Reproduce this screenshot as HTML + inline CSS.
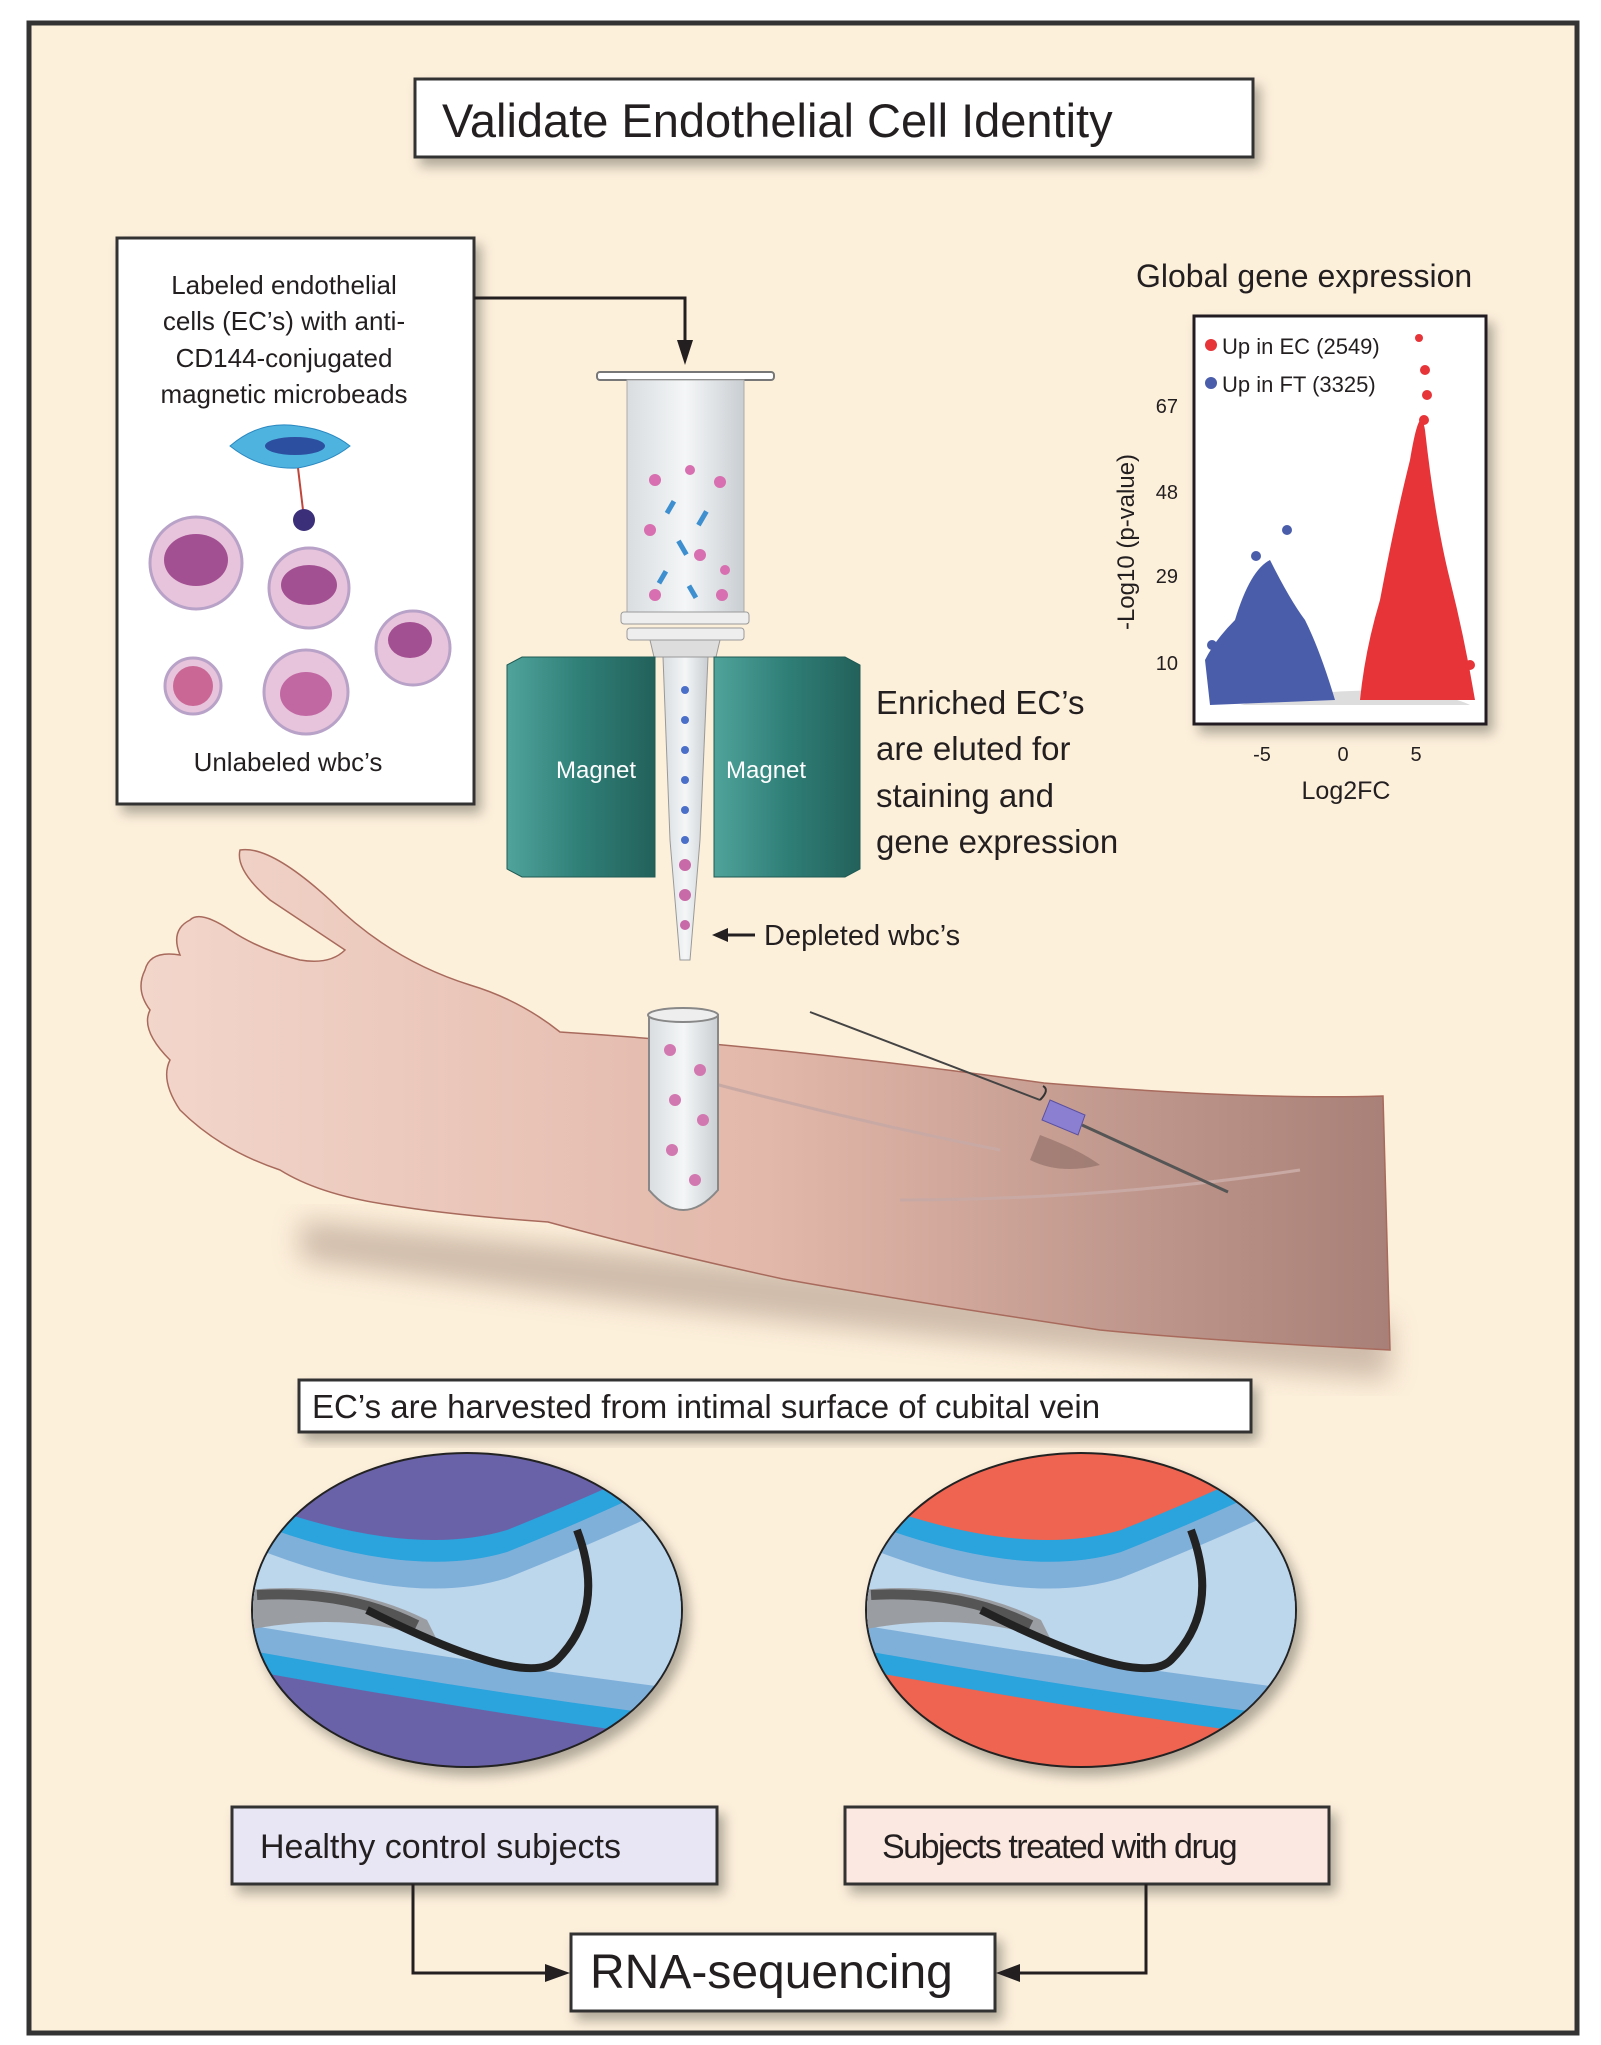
<!DOCTYPE html>
<html><head><meta charset="utf-8"><style>
html,body{margin:0;padding:0;background:#fff}
svg{display:block}
text{font-family:"Liberation Sans",sans-serif;fill:#231f20}
</style></head><body>
<svg width="1601" height="2045" viewBox="0 0 1601 2045" xmlns="http://www.w3.org/2000/svg">
<defs>
<filter id="sh" x="-10%" y="-10%" width="130%" height="140%"><feDropShadow dx="6" dy="8" stdDeviation="6" flood-color="#000" flood-opacity="0.3"/></filter>
<filter id="blur"><feGaussianBlur stdDeviation="14"/></filter>
<linearGradient id="skin" x1="0" y1="0" x2="1" y2="0"><stop offset="0" stop-color="#f3d6cb"/><stop offset="0.5" stop-color="#e2b8aa"/><stop offset="1" stop-color="#a88077"/></linearGradient>
<linearGradient id="mag" x1="0" y1="0" x2="1" y2="0"><stop offset="0" stop-color="#4fa39a"/><stop offset="0.5" stop-color="#2f7f77"/><stop offset="1" stop-color="#23615b"/></linearGradient>
<linearGradient id="glass" x1="0" y1="0" x2="1" y2="0"><stop offset="0" stop-color="#d9dde0"/><stop offset="0.5" stop-color="#f4f6f7"/><stop offset="1" stop-color="#c9ced2"/></linearGradient>
<clipPath id="c1"><ellipse cx="467" cy="1610" rx="214" ry="156"/></clipPath>
<clipPath id="c2"><ellipse cx="1081" cy="1610" rx="214" ry="156"/></clipPath>
<g id="vein">
<path d="M-220,-100 Q-60,-40 40,-70 Q140,-110 220,-150 L220,140 Q0,110 -220,70Z" fill="#2ba3dc"/>
<path d="M-220,-80 Q-60,-18 40,-48 Q140,-88 220,-128 L220,118 Q0,90 -220,50Z" fill="#7fb0da"/>
<path d="M-220,-55 Q-60,10 40,-22 Q140,-62 220,-100 L220,90 Q0,62 -220,25Z" fill="#bcd6ec"/>
<path d="M-220,-10 Q-120,-20 -40,20 L-30,40 Q-120,10 -220,30Z" fill="#9a9ea3"/>
<path d="M-210,-5 Q-120,-10 -50,25" stroke="#555" stroke-width="10" fill="none"/>
<path d="M-100,10 Q60,90 90,60 Q140,10 110,-70" stroke="#222" stroke-width="8" fill="none"/>
</g>
</defs>
<rect x="29" y="23" width="1548" height="2010" fill="#fdf0db" stroke="#333" stroke-width="5"/>
<!-- Title -->
<rect x="415" y="79" width="838" height="78" fill="#fff" stroke="#333" stroke-width="3" filter="url(#sh)"/>
<text x="442" y="137" font-size="47">Validate Endothelial Cell Identity</text>
<!-- Left box -->
<rect x="117" y="238" width="357" height="566" fill="#fff" stroke="#333" stroke-width="3" filter="url(#sh)"/>
<g font-size="26" text-anchor="middle">
<text x="284" y="294">Labeled endothelial</text>
<text x="284" y="330">cells (EC’s) with anti-</text>
<text x="284" y="367">CD144-conjugated</text>
<text x="284" y="403">magnetic microbeads</text>
<text x="288" y="771">Unlabeled wbc’s</text>
</g>
<path d="M230,446 Q260,420 298,426 Q330,430 350,446 Q330,462 298,468 Q260,470 230,446Z" fill="#4fb3e0" stroke="#2a88c0"/>
<ellipse cx="295" cy="446" rx="30" ry="9" fill="#2d4fa0"/>
<path d="M298,468 L303,510" stroke="#c0453a" stroke-width="2"/>
<circle cx="304" cy="520" r="11" fill="#3b2f7a"/>
<g fill="#e7c4dc" stroke="#b9a2c8" stroke-width="3">
<circle cx="196" cy="563" r="46"/><circle cx="309" cy="588" r="40"/><circle cx="413" cy="648" r="37"/><circle cx="193" cy="686" r="28"/><circle cx="306" cy="692" r="42"/>
</g>
<g fill="#8c2a7a" opacity="0.75">
<ellipse cx="196" cy="560" rx="32" ry="26"/><ellipse cx="309" cy="585" rx="28" ry="20"/><ellipse cx="410" cy="640" rx="22" ry="18"/><circle cx="193" cy="686" r="20" fill="#c0487e"/><ellipse cx="306" cy="694" rx="26" ry="22" fill="#b44a90"/>
</g>
<!-- arrow -->
<path d="M474,298 H685 V345" stroke="#231f20" stroke-width="3" fill="none"/>
<path d="M677,340 L685,365 L693,340Z" fill="#231f20"/>
<!-- syringe -->
<rect x="597" y="372" width="177" height="8" rx="3" fill="#fff" stroke="#777" stroke-width="2"/>
<rect x="627" y="380" width="117" height="232" fill="url(#glass)" stroke="#aaa"/>
<g fill="#d76fb0"><circle cx="655" cy="480" r="6"/><circle cx="690" cy="470" r="5"/><circle cx="720" cy="482" r="6"/><circle cx="650" cy="530" r="6"/><circle cx="700" cy="555" r="6"/><circle cx="725" cy="570" r="5"/><circle cx="655" cy="595" r="6"/><circle cx="722" cy="595" r="6"/></g>
<g fill="#3d8fcf"><rect x="668" y="500" width="5" height="14" transform="rotate(30 670 507)"/><rect x="700" y="510" width="5" height="16" transform="rotate(30 702 518)"/><rect x="680" y="540" width="5" height="16" transform="rotate(-30 682 548)"/><rect x="660" y="570" width="5" height="14" transform="rotate(30 662 577)"/><rect x="690" y="585" width="5" height="14" transform="rotate(-30 692 592)"/></g>
<rect x="621" y="612" width="128" height="12" rx="3" fill="#eee" stroke="#999"/>
<rect x="627" y="628" width="117" height="12" rx="3" fill="#eee" stroke="#999"/>
<path d="M650,640 H720 L716,657 H654Z" fill="#ddd" stroke="#999"/>
<!-- magnets -->
<path d="M507,665 L522,657 H655 V877 H522 L507,869Z" fill="url(#mag)" stroke="#1f5a54"/>
<path d="M714,657 H845 L860,665 V869 L845,877 H714Z" fill="url(#mag)" stroke="#1f5a54"/>
<path d="M663,657 H708 L700,840 L690,960 H680 L670,840Z" fill="url(#glass)" stroke="#999"/>
<g fill="#4a6fc8"><circle cx="685" cy="690" r="4"/><circle cx="685" cy="720" r="4"/><circle cx="685" cy="750" r="4"/><circle cx="685" cy="780" r="4"/><circle cx="685" cy="810" r="4"/><circle cx="685" cy="840" r="4"/></g>
<g fill="#c86aa8"><circle cx="685" cy="865" r="6"/><circle cx="685" cy="895" r="6"/><circle cx="685" cy="925" r="5"/></g>
<text x="556" y="778" font-size="24" style="fill:#fff">Magnet</text>
<text x="726" y="778" font-size="24" style="fill:#fff">Magnet</text>
<g font-size="33"><text x="876" y="714">Enriched EC’s</text><text x="876" y="760">are eluted for</text><text x="876" y="807">staining and</text><text x="876" y="853">gene expression</text></g>
<path d="M716,935 H755" stroke="#231f20" stroke-width="3"/><path d="M712,935 L728,928 V942Z" fill="#231f20"/>
<text x="764" y="945" font-size="29">Depleted wbc’s</text>
<!-- chart -->
<text x="1136" y="287" font-size="32">Global gene expression</text>
<rect x="1194" y="316" width="292" height="408" fill="#fff" stroke="#231f20" stroke-width="3" filter="url(#sh)"/>
<path d="M1240,705 Q1300,690 1400,690 Q1450,695 1470,705Z" fill="#ddd"/>
<path d="M1205,660 Q1215,640 1235,620 Q1250,570 1270,560 Q1290,600 1305,620 Q1320,650 1335,700 L1210,705Z" fill="#4a5dab"/>
<path d="M1360,700 Q1365,650 1380,600 Q1395,520 1410,460 Q1420,400 1425,430 Q1435,520 1450,580 Q1465,640 1475,700Z" fill="#e63439"/>
<g fill="#e63439"><circle cx="1419" cy="338" r="4"/><circle cx="1425" cy="370" r="5"/><circle cx="1427" cy="395" r="5"/><circle cx="1424" cy="420" r="5"/><circle cx="1470" cy="665" r="5"/></g>
<g fill="#4a5dab"><circle cx="1287" cy="530" r="5"/><circle cx="1256" cy="556" r="5"/><circle cx="1212" cy="645" r="5"/></g>
<circle cx="1211" cy="345" r="6" fill="#e63439"/><text x="1222" y="354" font-size="22">Up in EC (2549)</text>
<circle cx="1211" cy="383" r="6" fill="#4a5dab"/><text x="1222" y="392" font-size="22">Up in FT (3325)</text>
<g font-size="20" text-anchor="end"><text x="1178" y="413">67</text><text x="1178" y="499">48</text><text x="1178" y="583">29</text><text x="1178" y="670">10</text></g>
<g font-size="20" text-anchor="middle"><text x="1262" y="761">-5</text><text x="1343" y="761">0</text><text x="1416" y="761">5</text></g>
<text x="1346" y="799" font-size="25" text-anchor="middle">Log2FC</text>
<text transform="translate(1134,542) rotate(-90)" font-size="24" text-anchor="middle">-Log10 (p-value)</text>
<!-- arm -->
<path d="M300,1260 Q800,1330 1390,1380 L1390,1320 Q800,1270 300,1220Z" fill="#7a5a50" opacity="0.35" filter="url(#blur)"/>
<path d="M240,850 Q270,845 330,900 Q390,960 470,985 Q520,1000 560,1032 Q780,1046 1044,1083 Q1250,1100 1383,1096 L1390,1350 Q1200,1340 1100,1330 Q900,1300 783,1279 Q650,1250 548,1222 Q450,1215 390,1205 Q320,1195 280,1170 Q220,1150 180,1110 Q160,1080 170,1060 Q140,1030 150,1010 Q135,990 145,970 Q150,950 180,955 Q170,930 190,920 Q200,910 230,930 Q260,950 300,960 Q330,965 345,950 Q300,920 270,900 Q235,870 240,850Z" fill="url(#skin)" stroke="#a86a5c" stroke-width="1.5"/>
<path d="M700,1080 Q850,1120 1000,1150 M900,1200 Q1100,1200 1300,1170" stroke="#c9a9a4" stroke-width="3" fill="none"/>
<!-- tube -->
<path d="M649,1015 V1190 Q683,1230 718,1190 V1015Z" fill="url(#glass)" stroke="#888" stroke-width="2"/>
<ellipse cx="683" cy="1015" rx="35" ry="7" fill="#eee" stroke="#888" stroke-width="2"/>
<g fill="#d278b0"><circle cx="670" cy="1050" r="6"/><circle cx="700" cy="1070" r="6"/><circle cx="675" cy="1100" r="6"/><circle cx="703" cy="1120" r="6"/><circle cx="672" cy="1150" r="6"/><circle cx="695" cy="1180" r="6"/></g>
<!-- needle -->
<path d="M810,1012 L1040,1100" stroke="#444" stroke-width="2" fill="none"/>
<path d="M1040,1100 q10,-10 3,-14" stroke="#333" stroke-width="2" fill="none"/>
<path d="M1050,1100 L1085,1115 L1078,1135 L1042,1120Z" fill="#8a7fd0" stroke="#5a4fa0"/>
<path d="M1082,1125 L1228,1192" stroke="#555" stroke-width="3"/>
<path d="M1040,1135 Q1080,1150 1100,1165 Q1060,1175 1030,1160Z" fill="#8a6b64" opacity="0.6"/>
<!-- harvest box -->
<rect x="299" y="1380" width="952" height="52" fill="#fff" stroke="#333" stroke-width="3" filter="url(#sh)"/>
<text x="312" y="1418" font-size="33">EC’s are harvested from intimal surface of cubital vein</text>
<!-- circles -->
<g filter="url(#sh)"><ellipse cx="467" cy="1610" rx="216" ry="158" fill="#222"/><ellipse cx="1081" cy="1610" rx="216" ry="158" fill="#222"/></g>
<g clip-path="url(#c1)"><rect x="240" y="1450" width="460" height="330" fill="#6a62a8"/><use href="#vein" transform="translate(467,1600)"/></g>
<g clip-path="url(#c2)"><rect x="860" y="1450" width="460" height="330" fill="#ef6450"/><use href="#vein" transform="translate(1081,1600)"/></g>
<!-- group boxes -->
<rect x="232" y="1807" width="485" height="77" fill="#e8e6f4" stroke="#333" stroke-width="3" filter="url(#sh)"/>
<text x="260" y="1858" font-size="34">Healthy control subjects</text>
<rect x="845" y="1807" width="484" height="77" fill="#fbe8e0" stroke="#333" stroke-width="3" filter="url(#sh)"/>
<text x="882" y="1858" font-size="34" letter-spacing="-1.5">Subjects treated with drug</text>
<rect x="571" y="1934" width="424" height="77" fill="#fff" stroke="#333" stroke-width="3" filter="url(#sh)"/>
<text x="590" y="1988" font-size="48">RNA-sequencing</text>
<path d="M413,1884 V1973 H550" stroke="#231f20" stroke-width="3" fill="none"/>
<path d="M545,1964 L570,1973 L545,1982Z" fill="#231f20"/>
<path d="M1146,1884 V1973 H1015" stroke="#231f20" stroke-width="3" fill="none"/>
<path d="M1020,1964 L996,1973 L1020,1982Z" fill="#231f20"/>
</svg>
</body></html>
